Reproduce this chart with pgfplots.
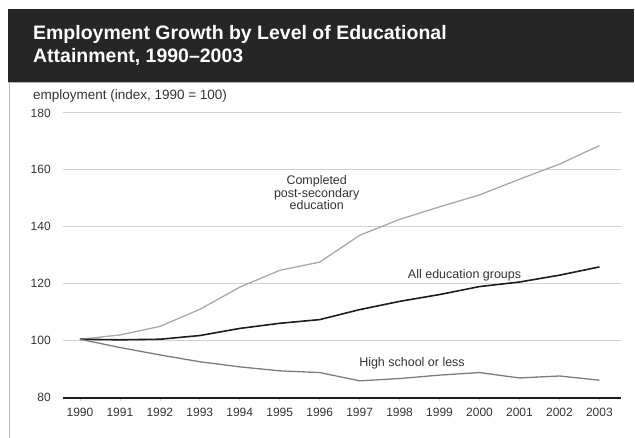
\documentclass[border=0pt]{standalone}
\usepackage{fontspec}
\setmainfont{Liberation Sans}
\usepackage{pgfplots}
\pgfplotsset{compat=1.18}

\definecolor{band}{HTML}{262626}
\definecolor{txt}{HTML}{333333}
\definecolor{gridc}{HTML}{D2D2D2}
\definecolor{postsec}{HTML}{A8A8A8}
\definecolor{allgrp}{HTML}{1C1C1C}
\definecolor{hschool}{HTML}{7C7C7C}

\begin{document}
\begin{tikzpicture}[x=1pt,y=1pt]
  % page frame: 635 x 438, y measured from the bottom
  \path (0,0) rectangle (635,438);
  \fill[band] (8,356) rectangle (635,429);
  \draw[gray!60, line width=1.2pt] (8,355.4) -- (635,355.4);
  \draw[gray!55, line width=0.8pt] (9.5,0) -- (9.5,355);
  \node[anchor=base west, inner sep=0pt, text=white, font=\fontsize{19.5}{23}\selectfont\bfseries]
    at (33,398) {Employment Growth by Level of Educational};
  \node[anchor=base west, inner sep=0pt, text=white, font=\fontsize{19.5}{23}\selectfont\bfseries]
    at (33,375) {Attainment, 1990--2003};
  \node[anchor=base west, inner sep=0pt, text=txt, font=\fontsize{13.5}{16}\selectfont]
    at (33,338) {employment (index, 1990 = 100)};

  \begin{axis}[
      at={(63pt,40pt)}, anchor=south west,
      scale only axis,
      width=559pt, height=285pt,
      xmin=1989.575, xmax=2003.55,
      ymin=80, ymax=180,
      xtick={1990,...,2003},
      ytick={80,100,...,180},
      /pgf/number format/1000 sep=,
      /pgf/number format/assume math mode=true,
      ticklabel style={text=txt, font=\fontsize{12}{14}\selectfont},
      yticklabel style={inner sep=0pt, xshift=-9pt},
      xticklabel style={inner sep=0pt, yshift=-7pt},
      ymajorgrids,
      major grid style={gridc, line width=1pt},
      axis x line*=bottom,
      axis y line*=left,
      x axis line style={allgrp, line width=2.2pt, -},
      y axis line style={draw=none, -},
      xtick style={draw=gray!35, line width=0.6pt},
      ytick style={draw=none},
      tick align=outside,
      major tick length=3pt,
      clip=false,
    ]
    \addplot[postsec, line width=1.3pt] coordinates {
      (1990,100.5) (1991,102.0) (1992,105.0) (1993,111.0) (1994,118.8)
      (1995,124.7) (1996,127.6) (1997,137.0) (1998,142.6) (1999,147.0)
      (2000,151.2) (2001,156.7) (2002,162.0) (2003,168.5)};
    \addplot[allgrp, line width=1.6pt] coordinates {
      (1990,100.5) (1991,100.3) (1992,100.5) (1993,101.8) (1994,104.3)
      (1995,106.1) (1996,107.4) (1997,110.9) (1998,113.8) (1999,116.2)
      (2000,119.0) (2001,120.6) (2002,123.0) (2003,125.9)};
    \addplot[hschool, line width=1.3pt] coordinates {
      (1990,100.5) (1991,97.6) (1992,95.0) (1993,92.6) (1994,90.8)
      (1995,89.4) (1996,88.8) (1997,85.9) (1998,86.7) (1999,87.9)
      (2000,88.8) (2001,86.9) (2002,87.6) (2003,86.1)};

    \node[text=txt, font=\fontsize{12.5}{12.5}\selectfont, align=center, inner sep=0pt]
      at (axis cs:1995.925,151.9) {Completed\\post-secondary\\education};
    \node[text=txt, font=\fontsize{12.5}{12.5}\selectfont, inner sep=0pt]
      at (axis cs:1999.625,122.8) {All education groups};
    \node[text=txt, font=\fontsize{12.5}{12.5}\selectfont, inner sep=0pt]
      at (axis cs:1998.31,91.9) {High school or less};
  \end{axis}
\end{tikzpicture}
\end{document}
